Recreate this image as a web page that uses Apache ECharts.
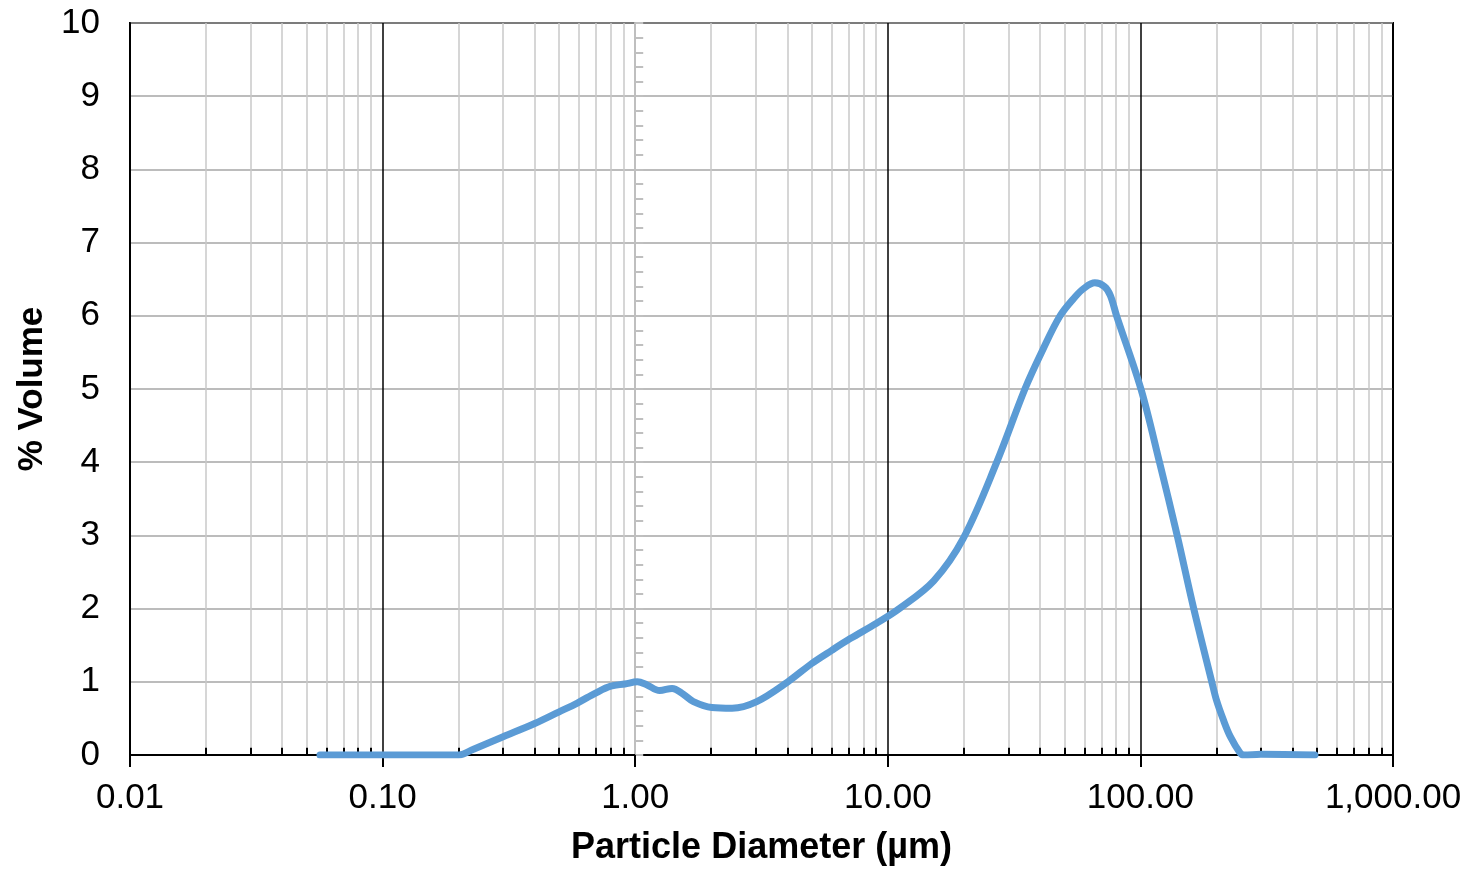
<!DOCTYPE html>
<html>
<head>
<meta charset="utf-8">
<script src="https://cdn.jsdelivr.net/npm/echarts@6/dist/echarts.min.js"></script>
<style>
  html, body { margin: 0; padding: 0; background: #fff; }
  #chart { width: 1470px; height: 869px; }
</style>
</head>
<body>
<div id="chart"></div>
<script>
// particle size (µm) and % volume
const sizes = [0.0565, 0.1, 0.2, 0.229, 0.30, 0.40, 0.50, 0.59, 0.70, 0.80, 0.91, 1.02, 1.11, 1.25, 1.40, 1.55, 1.70, 2.01, 2.42, 3.03, 4.02, 5.0, 6.0, 7.1, 9.03, 11.1, 15.2, 19.9, 27.0, 34.9, 41, 48.1, 55.2, 60, 66, 72, 76.0, 80.5, 100.5, 119, 139.8, 162.6, 191.7, 200, 213, 227, 248, 257, 300, 491];
const volume = [0, 0, 0, 0.08, 0.25, 0.43, 0.59, 0.71, 0.85, 0.94, 0.97, 1.0, 0.96, 0.88, 0.91, 0.83, 0.73, 0.65, 0.64, 0.73, 1.0, 1.25, 1.43, 1.59, 1.80, 2.0, 2.38, 2.96, 4.0, 5.0, 5.53, 6.0, 6.26, 6.38, 6.45, 6.40, 6.28, 6.0, 5.0, 4.0, 3.0, 2.0, 1.0, 0.75, 0.48, 0.25, 0.03, 0, 0.01, 0];

const decades = [0.01, 0.1, 1, 10, 100];
const mults = [2, 3, 4, 5, 6, 7, 8, 9];

const font = "Liberation Sans, Arial, sans-serif";
const gridLeft = 130, gridRight = 77, gridTop = 23, gridBottom = 114;
const plotWidth = 1470 - gridLeft - gridRight;

const minorVals = [];
decades.forEach(d => mults.forEach(m => minorVals.push(+(d * m).toPrecision(3))));

// minor vertical gridlines + short black ticks on the x axis
const minorLines = [];
minorVals.forEach(v => {
  minorLines.push({ xAxis: v, lineStyle: { color: '#c8c8c8', width: 1.5, type: 'solid' } });
});
minorVals.forEach(v => {
  minorLines.push([
    { coord: [v, 0], lineStyle: { color: '#000', width: 2, type: 'solid' } },
    { coord: [v, 0.1] }
  ]);
});

const chart = echarts.init(document.getElementById('chart'));
chart.setOption({
  animation: false,
  textStyle: { fontFamily: font },
  grid: {
    left: gridLeft, right: gridRight, top: gridTop, bottom: gridBottom,
    containLabel: false, outerBoundsMode: 'none',
    show: true, borderColor: '#000', borderWidth: 2, backgroundColor: 'transparent'
  },
  xAxis: {
    type: 'log',
    logBase: 10,
    min: 0.01,
    max: 1000,
    name: 'Particle Diameter (µm)',
    nameLocation: 'middle',
    nameGap: 75,
    nameTextStyle: { fontSize: 36, fontWeight: 'bold', color: '#000', fontFamily: font },
    axisLine: { show: true, lineStyle: { color: '#000', width: 2 } },
    axisTick: { show: true, length: 12, lineStyle: { color: '#000', width: 2 } },
    axisLabel: {
      fontSize: 35, color: '#000', margin: 26,
      formatter: v => Number(v).toLocaleString('en-US', { minimumFractionDigits: 2, maximumFractionDigits: 2 })
    },
    splitLine: { show: true, lineStyle: { color: '#000', width: 1.5 } }
  },
  yAxis: [
    {
      type: 'value',
      min: 0,
      max: 10,
      interval: 1,
      name: '% Volume',
      nameLocation: 'middle',
      nameGap: 80,
      nameTextStyle: { fontSize: 35, fontWeight: 'bold', color: '#000', fontFamily: font },
      axisLine: { show: true, lineStyle: { color: '#000', width: 2 } },
      axisTick: { show: false },
      axisLabel: { fontSize: 35, color: '#000', margin: 30 },
      splitLine: { show: true, lineStyle: { color: '#a6a6a6', width: 1.5 } }
    },
    {
      // grey axis crossing at 1.00 µm
      type: 'value',
      position: 'left',
      offset: -plotWidth * 2 / 5,
      min: 0,
      max: 10,
      interval: 1,
      axisLine: { show: true, lineStyle: { color: '#bfbfbf', width: 2 } },
      axisTick: { show: true, inside: true, length: 8, lineStyle: { color: '#bfbfbf', width: 2 } },
      minorTick: { show: true, splitNumber: 5, length: 8, lineStyle: { color: '#bfbfbf', width: 2 } },
      axisLabel: { show: false },
      splitLine: { show: false }
    }
  ],
  series: [
    {
      type: 'line',
      data: [],
      silent: true,
      z: 1,
      markLine: {
        silent: true,
        symbol: 'none',
        label: { show: false },
        animation: false,
        data: minorLines
      }
    },
    {
      name: 'Volume',
      type: 'line',
      z: 5,
      smooth: 0.35,
      symbol: 'none',
      silent: true,
      lineStyle: { color: '#5b9bd5', width: 7, cap: 'round', join: 'round' },
      data: sizes.map((s, i) => [s, volume[i]])
    }
  ]
});
</script>
</body>
</html>
